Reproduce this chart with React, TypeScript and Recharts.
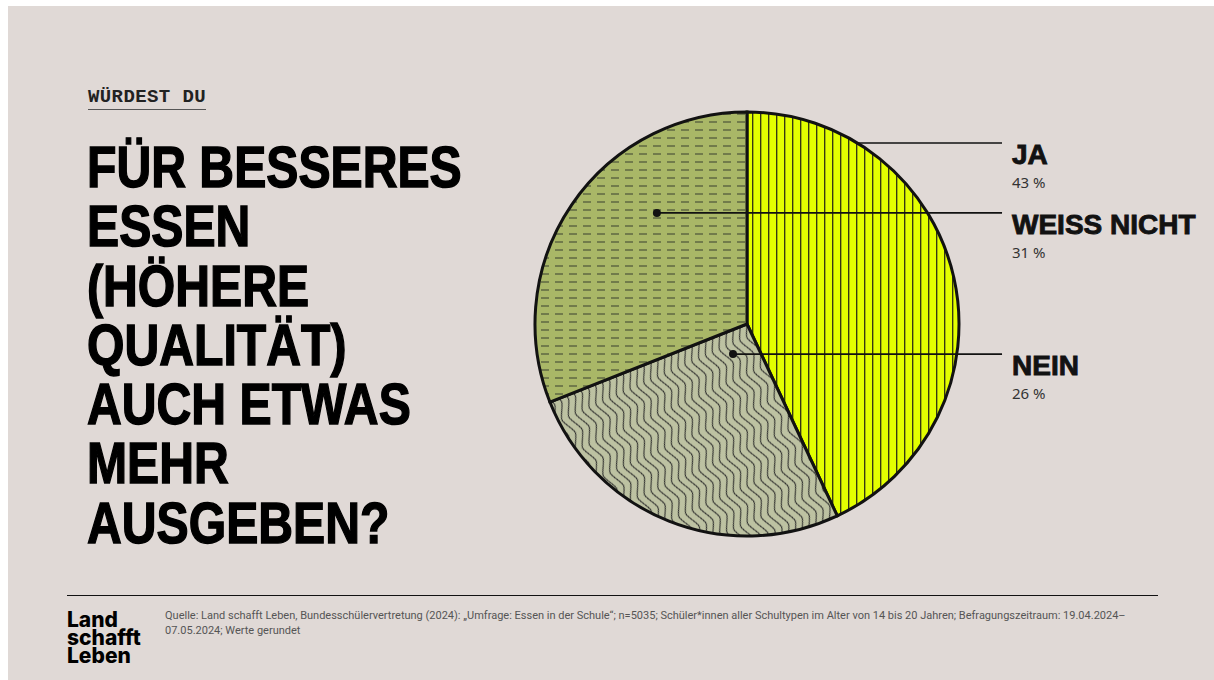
import { Cell, Pie, PieChart } from 'recharts';

const categories = ['JA', 'NEIN', 'WEISS NICHT'];
const shares = [43, 26, 31];
const shareLabels = ['43 %', '26 %', '31 %'];
const patternIds = ['jaFill', 'neinFill', 'weissFill'];

const kicker = 'WÜRDEST DU';
const titleLines = [
  'FÜR BESSERES',
  'ESSEN',
  '(HÖHERE',
  'QUALITÄT)',
  'AUCH ETWAS',
  'MEHR',
  'AUSGEBEN?',
];
const logoLines = ['Land', 'schafft', 'Leben'];
const sourceLines = [
  'Quelle: Land schafft Leben, Bundesschülervertretung (2024): „Umfrage: Essen in der Schule“; n=5035; Schüler*innen aller Schultypen im Alter von 14 bis 20 Jahren; Befragungszeitraum: 19.04.2024–',
  '07.05.2024; Werte gerundet',
];

const data = categories.map((name, i) => ({ name, value: shares[i], share: shareLabels[i] }));

const BG = '#e0d9d6';
const INK = '#121212';

// where each leader line starts, in units of the outer radius (edge = start on the rim)
const LEADERS: Record<string, { dx: number; dy: number; edge?: boolean }> = {
  JA: { dx: 0, dy: -0.854, edge: true },
  NEIN: { dx: -0.066, dy: 0.142 },
  'WEISS NICHT': { dx: -0.425, dy: -0.524 },
};

const renderLabel = (props: any) => {
  const { cx, cy, outerRadius, name, payload } = props;
  const lead = LEADERS[name];
  if (!lead) return null;
  const y = cy + lead.dy * outerRadius;
  const x0 = lead.edge
    ? cx + Math.sqrt(1 - lead.dy * lead.dy) * outerRadius
    : cx + lead.dx * outerRadius;
  const x1 = cx + outerRadius * 1.203;
  const tx = cx + outerRadius * 1.25;
  return (
    <g>
      <line x1={x0} y1={y} x2={x1} y2={y} stroke={INK} strokeWidth={1.6} />
      {!lead.edge && <circle cx={x0} cy={y} r={4} fill={INK} />}
      <text
        x={tx}
        y={y + 21}
        fill={INK}
        fontFamily='"Liberation Sans", Arial, sans-serif'
        fontWeight={700}
        fontSize={28}
        stroke={INK}
        strokeWidth={0.9}
      >
        {name}
      </text>
      <text x={tx} y={y + 45} fill="#333" fontFamily='"Noto Sans", sans-serif' fontSize={15}>
        {payload.share}
      </text>
    </g>
  );
};

export default function App() {
  return (
    <div>
      <style>{'body{margin:0;background:#fff}'}</style>
      <div
        style={{
          position: 'absolute',
          left: 8,
          top: 6,
          width: 1206,
          height: 674,
          background: BG,
          overflow: 'hidden',
        }}
      >
        <div
          style={{
            position: 'absolute',
            left: 80,
            top: 80,
            fontFamily: '"Liberation Mono", "DejaVu Sans Mono", monospace',
            fontSize: 19,
            fontWeight: 700,
            lineHeight: '22px',
            letterSpacing: 0.4,
            color: '#222',
            borderBottom: '1.5px solid #555',
            paddingBottom: 1,
          }}
        >
          {kicker}
        </div>
        <div
          style={{
            position: 'absolute',
            left: 79,
            top: 132,
            fontFamily: '"Liberation Sans", Arial, sans-serif',
            fontWeight: 700,
            fontSize: 57,
            lineHeight: '59.3px',
            color: '#000',
            WebkitTextStroke: '1.4px #000',
            whiteSpace: 'nowrap',
            transform: 'scaleX(0.845)',
            transformOrigin: 'left top',
          }}
        >
          {titleLines.map((l) => (
            <div key={l}>{l}</div>
          ))}
        </div>

        <div style={{ position: 'absolute', left: 0, top: 0 }}>
          <PieChart width={1206} height={590}>
            <defs>
              <pattern id="jaFill" patternUnits="userSpaceOnUse" width={8} height={8}>
                <rect width={8} height={8} fill="#e3ff00" />
                <line x1={0.7} y1={0} x2={0.7} y2={8} stroke="#2c2e14" strokeWidth={1.3} />
              </pattern>
              <pattern id="weissFill" patternUnits="userSpaceOnUse" width={14} height={8}>
                <rect width={14} height={8} fill="#a9b767" />
                <line x1={1} y1={4} x2={9} y2={4} stroke="#3c4230" strokeWidth={1.3} strokeOpacity={0.8} />
              </pattern>
              <pattern
                id="neinFill"
                patternUnits="userSpaceOnUse"
                width={7.5}
                height={34}
                patternTransform="rotate(-24)"
              >
                <rect width={7.5} height={34} fill="#bdc2a2" />
                {[-7.5, 0, 7.5].map((o) => (
                  <path
                    key={o}
                    d={`M${3.75 + o} 0 C${8.5 + o} 8.5 ${8.5 + o} 8.5 ${3.75 + o} 17 S${-1 + o} 25.5 ${3.75 + o} 34`}
                    fill="none"
                    stroke="#262626"
                    strokeWidth={1}
                  />
                ))}
              </pattern>
            </defs>
            <Pie
              data={data}
              dataKey="value"
              nameKey="name"
              cx={734}
              cy={313}
              innerRadius={0}
              outerRadius={212}
              startAngle={90}
              endAngle={-270}
              label={renderLabel}
              labelLine={false}
              isAnimationActive={false}
            >
              {data.map((d, i) => (
                <Cell key={d.name} fill={`url(#${patternIds[i]})`} stroke={INK} strokeWidth={3} />
              ))}
            </Pie>
          </PieChart>
        </div>

        <div
          style={{
            position: 'absolute',
            left: 59,
            top: 589,
            width: 1091,
            borderTop: `1.5px solid ${INK}`,
          }}
        />
        <div
          style={{
            position: 'absolute',
            left: 59,
            top: 605,
            fontFamily: 'Inter, "Noto Sans", sans-serif',
            fontWeight: 800,
            fontSize: 21,
            lineHeight: '18px',
            letterSpacing: 0,
            color: '#000',
          }}
        >
          {logoLines.map((l) => (
            <div key={l}>{l}</div>
          ))}
        </div>
        <div
          style={{
            position: 'absolute',
            left: 157,
            top: 602,
            fontFamily: 'Roboto, "Noto Sans", sans-serif',
            fontSize: 11,
            lineHeight: '15px',
            color: '#555',
            whiteSpace: 'nowrap',
          }}
        >
          {sourceLines.map((l) => (
            <div key={l}>{l}</div>
          ))}
        </div>
      </div>
    </div>
  );
}
